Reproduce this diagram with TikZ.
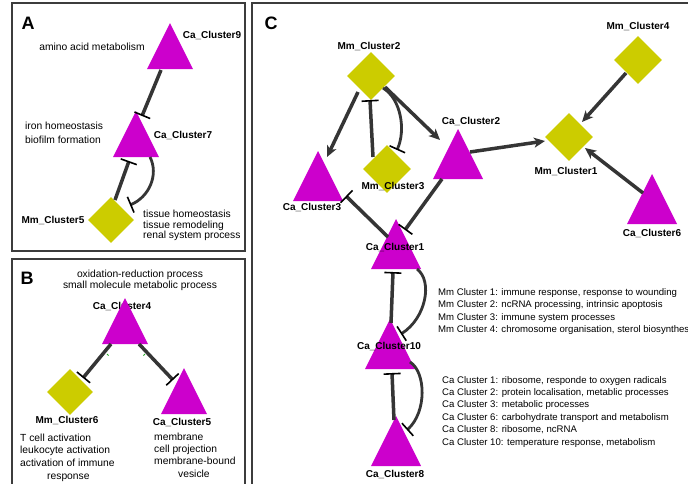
\documentclass[tikz,border=0pt]{standalone}
\usepackage{fontspec}
\setmainfont{Liberation Sans}
\usetikzlibrary{arrows.meta,shapes.geometric,calc}
\definecolor{ctri}{HTML}{CC00CC}
\definecolor{cdia}{HTML}{CCCC00}
\definecolor{cedge}{HTML}{353535}
\definecolor{cframe}{HTML}{3C3C3C}
\definecolor{cmark}{HTML}{22AA22}

\tikzset{
  panel/.style={draw=cframe, line width=1.2pt},
  plabel/.style={font=\bfseries\fontsize{18}{18}\selectfont, inner sep=0pt},
  tri/.style={minimum width=#1, minimum height=#1, inner sep=0pt,
    path picture={\fill[ctri] (path picture bounding box.south west)
      -- (path picture bounding box.north)
      -- (path picture bounding box.south east) -- cycle;}},
  tri/.default=46pt,
  dia/.style={diamond, aspect=1, fill=cdia, minimum width=#1, minimum height=#1, inner sep=0pt},
  dia/.default=46pt,
  lbl/.style={font=\bfseries\fontsize{10}{12}\selectfont, inner sep=0pt},
  note/.style={font=\fontsize{10.3}{12}\selectfont, inner sep=0pt, align=left},
  legendtext/.style={font=\fontsize{9.6}{12.5}\selectfont, inner sep=0pt, align=left, anchor=north west},
  conn/.style={draw=cedge, line width=3.5pt},
  inh/.style={conn, -{Bar[width=17pt, line width=1.6pt, color=black]}},
  inhc/.style={draw=cedge, line width=2.8pt, -{Bar[width=17pt, line width=1.6pt, color=black]}},
  act/.style={conn, -{Stealth[length=11pt, width=10pt, inset=3pt]}},
}

\begin{document}
\begin{tikzpicture}[x=1pt,y=-1pt]
\useasboundingbox (0,0) rectangle (688,483);
\clip (0,0) rectangle (688,483);
\fill[white] (0,0) rectangle (688,483);

% panel frames
\draw[panel] (12,3) rectangle (245,251);
\draw[panel] (12,259) rectangle (245,495);
\draw[panel] (252,3) rectangle (700,495);

\node[plabel] (labA) at (28,23) {A};
\node[plabel] (labB) at (27,278) {B};
\node[plabel] (labC) at (271,23) {C};

% ---------------- panel A ----------------
\node[tri] (ca9) at (170,46) {};
\node[tri] (ca7) at (136,134) {};
\node[dia] (mm5) at (111,220) {};

\draw[inh] ($(ca9)+(-9,24)$) -- ($(ca7)+(6,-18)$);
\draw[inh] ($(mm5)+(4,-20)$) -- ($(ca7)+(-7,27)$);
\draw[inhc] ($(ca7)+(14,23)$) .. controls +(9,18) and +(19,-8) .. ($(mm5)+(19,-15)$);

\node[lbl] (ca9l) at (212,35) {Ca\_Cluster9};
\node[lbl] (ca7l) at (183,135) {Ca\_Cluster7};
\node[lbl] (mm5l) at (53,220) {Mm\_Cluster5};

\node[note] (ca9t) at (92,47) {amino acid metabolism};
\node[note, anchor=north west, font=\fontsize{10.3}{14}\selectfont] (ca7t) at (25,121.5)
  {iron homeostasis\\biofilm formation};
\node[note, anchor=north west, font=\fontsize{10.3}{10.9}\selectfont] (mm5t) at (143,209.5)
  {tissue homeostasis\\tissue remodeling\\renal system process};

% ---------------- panel B ----------------
\node[note, align=center, font=\fontsize{10.3}{11.2}\selectfont] (ca4t) at (140,280.5)
  {oxidation-reduction process\\small molecule metabolic process};
\node[lbl] (ca4l) at (122,306) {Ca\_Cluster4};
\node[tri] (ca4) at (125,321) {};
\node[dia] (mm6) at (70,392) {};
\node[tri] (ca5) at (184,391) {};

\draw[inh] ($(ca4)+(-14,23)$) -- ($(mm6)+(13,-14)$);
\draw[inh] ($(ca4)+(14,23)$) -- ($(ca5)+(-11,-11)$);
\draw[cmark, line width=0.9pt] (107,354) -- (108.6,355.6);
\draw[cmark, line width=0.9pt] (145,354) -- (143.4,355.6);

\node[lbl] (mm6l) at (67,420) {Mm\_Cluster6};
\node[lbl] (ca5l) at (182,422) {Ca\_Cluster5};
\node[note, anchor=north west, font=\fontsize{10.3}{12.7}\selectfont] (mm6t) at (20,433.5)
  {T cell activation\\leukocyte activation\\activation of immune\\\hspace*{27pt}response};
\node[note, anchor=north west, font=\fontsize{10.3}{12.3}\selectfont] (ca5t) at (154,432.5)
  {membrane\\cell projection\\membrane-bound\\\hspace*{24pt}vesicle};

% ---------------- panel C ----------------
\node[dia=48pt] (mm2) at (371,76) {};
\node[dia=48pt] (mm4) at (638,60) {};
\node[dia=48pt] (mm1) at (569,137) {};
\node[dia=48pt] (mm3) at (387,169) {};
\node[tri=50pt] (ca2) at (458,154) {};
\node[tri=50pt] (ca3) at (318,176) {};
\node[tri=50pt] (ca6) at (652,199) {};
\node[tri=50pt] (ca1) at (396,244) {};
\node[tri=50pt] (ca10) at (390,344) {};
\node[tri=50pt] (ca8) at (396,441) {};

\draw[act] ($(mm2)+(-13,16)$) -- ($(ca3)+(9,-19)$);
\draw[inh] ($(mm3)+(-14,-12)$) -- ($(mm2)+(-1,24)$);
\draw[inhc] ($(mm2)+(12,12)$) .. controls +(18,11) and +(9,-20) .. ($(mm3)+(10,-19)$);
\draw[act] ($(mm2)+(14,11)$) -- ($(ca2)+(-18,-14)$);
\draw[act] ($(ca2)+(12,-2)$) -- ($(mm1)+(-24,4)$);
\draw[act] ($(mm4)+(-12,13)$) -- ($(mm1)+(13,-15)$);
\draw[act] ($(ca6)+(-9,-6)$) -- ($(mm1)+(16,11)$);
\draw[inh] ($(ca2)+(-16,25)$) -- ($(ca1)+(9,-14)$);
\draw[inh] ($(ca1)+(-8,-7)$) -- ($(ca3)+(28,20)$);
\draw[inh] ($(ca10)+(1,-21)$) -- ($(ca1)+(-3,28)$);
\draw[inhc] ($(ca1)+(21,25)$) .. controls +(16,12) and +(25,-16) .. ($(ca10)+(11,-10)$);
\draw[inh] ($(ca8)+(-2,-21)$) -- ($(ca10)+(2,29)$);
\draw[inhc] ($(ca10)+(20,18)$) .. controls +(16,10) and +(20,-18) .. ($(ca8)+(11,-11)$);

\node[lbl] (mm2l) at (369,46) {Mm\_Cluster2};
\node[lbl] (mm4l) at (638,26) {Mm\_Cluster4};
\node[lbl] (mm1l) at (566,171) {Mm\_Cluster1};
\node[lbl] (mm3l) at (393,186) {Mm\_Cluster3};
\node[lbl] (ca2l) at (471,121) {Ca\_Cluster2};
\node[lbl] (ca3l) at (312,207) {Ca\_Cluster3};
\node[lbl] (ca6l) at (652,233) {Ca\_Cluster6};
\node[lbl] (ca1l) at (395,247) {Ca\_Cluster1};
\node[lbl] (ca10l) at (389,346) {Ca\_Cluster10};
\node[lbl] (ca8l) at (395,474) {Ca\_Cluster8};

\node[legendtext, font=\fontsize{9.6}{12.6}\selectfont] (mmleg) at (438,288)
  {Mm Cluster 1: immune response, response to wounding\\
   Mm Cluster 2: ncRNA processing, intrinsic apoptosis\\
   Mm Cluster 3: immune system processes\\
   Mm Cluster 4: chromosome organisation, sterol biosynthes};
\node[legendtext, font=\fontsize{9.6}{12.4}\selectfont] (caleg) at (442,376)
  {Ca Cluster 1: ribosome, responde to oxygen radicals\\
   Ca Cluster 2: protein localisation, metablic processes\\
   Ca Cluster 3: metabolic processes\\
   Ca Cluster 6: carbohydrate transport and metabolism\\
   Ca Cluster 8: ribosome, ncRNA\\
   Ca Cluster 10: temperature response, metabolism};
\end{tikzpicture}
\end{document}
